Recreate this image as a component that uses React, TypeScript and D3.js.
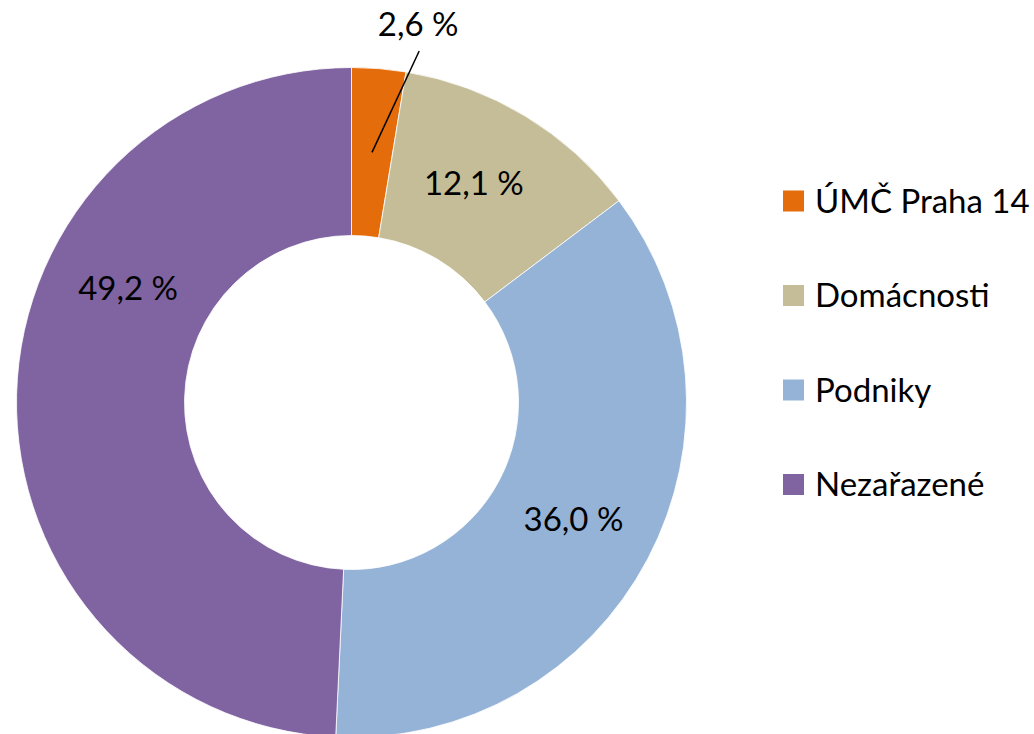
import React from "react";
import * as d3 from "d3";

// shares of the total, in percent
const categories = ["ÚMČ Praha 14", "Domácnosti", "Podniky", "Nezařazené"];
const shares = [2.6, 12.1, 36.0, 49.2];
const labels = ["2,6 %", "12,1 %", "36,0 %", "49,2 %"];
const colors = ["#E46C0A", "#C4BD97", "#95B3D7", "#8064A2"];

const width = 1034;
const height = 734;
const cx = 351.5;
const cy = 402.5;
const outerR = 335;
const innerR = 167;
const font = "Lato, 'Open Sans', sans-serif";

function App() {
  const pie = d3
    .pie<number>()
    .sort(null)
    .value(d => d);
  const arcs = pie(shares);

  const arc = d3
    .arc<d3.PieArcDatum<number>>()
    .innerRadius(innerR)
    .outerRadius(outerR);

  const labelArc = d3
    .arc<d3.PieArcDatum<number>>()
    .innerRadius((innerR + outerR) / 2)
    .outerRadius((innerR + outerR) / 2);

  // excel nudges the big slice's label up along the ring
  const labelShift = [0, -0.035, 0, 0.45];

  const polar = (angle: number, r: number) => [
    r * Math.sin(angle),
    -r * Math.cos(angle)
  ];

  const legendY = d3
    .scalePoint<string>()
    .domain(categories)
    .range([190.5, 474]);

  return (
    <svg
      width={width}
      height={height}
      style={{ position: "absolute", left: 0, top: 0, background: "#fff" }}
    >
      <g transform={`translate(${cx},${cy})`}>
        {arcs.map((a, i) => (
          <path
            key={categories[i]}
            d={arc(a) || ""}
            fill={colors[i]}
            stroke="#fff"
            strokeWidth={0.8}
          />
        ))}
        {arcs.map((a, i) => {
          const mid = (a.startAngle + a.endAngle) / 2 + labelShift[i];
          const r = (innerR + outerR) / 2;
          if (i === 0) {
            const [x0, y0] = labelArc.centroid(a);
            const [x1, y1] = polar((10.9 * Math.PI) / 180, 358);
            return (
              <g key={"l" + i}>
                <line x1={x0} y1={y0} x2={x1} y2={y1} stroke="#000" strokeWidth={1.5} />
                <text
                  x={x1 - 1}
                  y={y1 - 15}
                  textAnchor="middle"
                  fontFamily={font}
                  fontSize={33}
                  fill="#000"
                >
                  {labels[i]}
                </text>
              </g>
            );
          }
          const [x, y] = polar(mid, r);
          return (
            <text
              key={"l" + i}
              x={x}
              y={y}
              dy="0.35em"
              textAnchor="middle"
              fontFamily={font}
              fontSize={33}
              fill="#000"
            >
              {labels[i]}
            </text>
          );
        })}
      </g>
      <g>
        {categories.map((c, i) => (
          <g key={c} transform={`translate(783,${legendY(c)})`}>
            <rect width={21} height={21} fill={colors[i]} />
            <text x={32} y={22} fontFamily={font} fontSize={33} fill="#000">
              {c}
            </text>
          </g>
        ))}
      </g>
    </svg>
  );
}

export default App;
